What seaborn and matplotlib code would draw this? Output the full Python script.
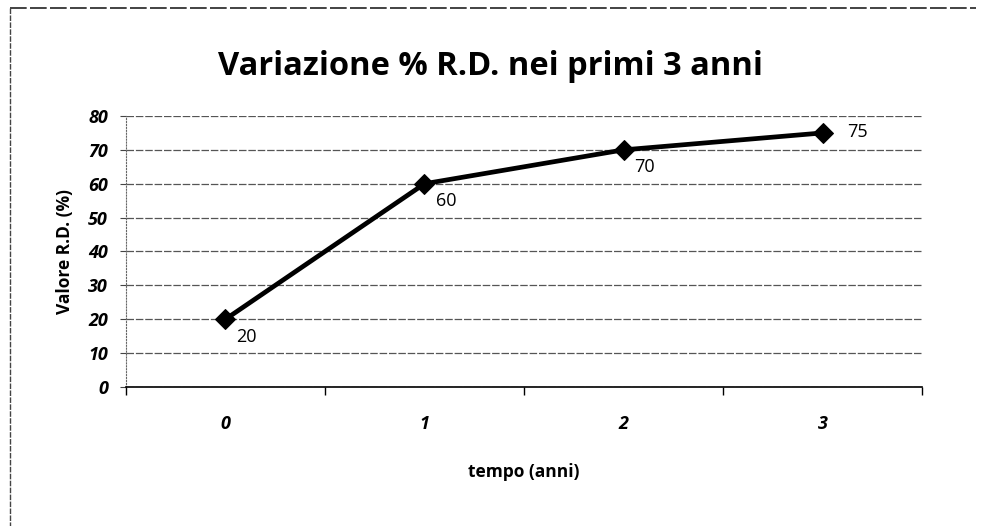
import matplotlib
matplotlib.use("Agg")
import matplotlib.pyplot as plt
import pandas as pd
import seaborn as sns
from matplotlib.lines import Line2D

# data
anni = [0, 1, 2, 3]
valori_rd = [20, 60, 70, 75]
y_ticks = [0, 10, 20, 30, 40, 50, 60, 70, 80]

df = pd.DataFrame({"tempo": anni, "valore": valori_rd})

sns.set_style("white")
plt.rcParams["font.family"] = ["Open Sans", "DejaVu Sans"]
plt.rcParams["text.color"] = "black"
plt.rcParams["axes.labelcolor"] = "black"
plt.rcParams["xtick.color"] = "black"
plt.rcParams["ytick.color"] = "black"

fig = plt.figure(figsize=(9.81, 5.26), dpi=100)
ax = fig.add_axes([0.1284, 0.2643, 0.8115, 0.5152])

sns.lineplot(data=df, x="tempo", y="valore", ax=ax, color="black",
             linewidth=3.4, marker="D", markersize=10.5, markeredgecolor="black")

for x, y in zip(anni, valori_rd):
    if x < 3:
        ax.annotate(str(y), (x, y), xytext=(8, -6), textcoords="offset points",
                    fontsize=13, ha="left", va="top")
    else:
        ax.annotate(str(y), (x, y), xytext=(18, 1), textcoords="offset points",
                    fontsize=13, ha="left", va="center")

ax.set_xlim(-0.5, 3.5)
ax.set_ylim(0, 80)
ax.set_yticks(y_ticks)
ax.set_xticks(anni)
ax.set_xticklabels([str(a) for a in anni], fontstyle="italic", fontweight="bold",
                   fontsize=13)
ax.set_yticklabels([str(t) for t in y_ticks], fontstyle="italic", fontweight="bold",
                   fontsize=13)
ax.tick_params(axis="x", which="major", bottom=False, length=0, pad=20)
ax.tick_params(axis="y", left=True, length=4, width=0.8, color="#444444", pad=9,
               direction="out")

# category boundary ticks under the x axis
ax.set_xticks([-0.5, 0.5, 1.5, 2.5, 3.5], minor=True)
ax.tick_params(axis="x", which="minor", bottom=True, length=6, width=1,
               color="black", direction="out")

ax.grid(axis="y", color="#555555", linewidth=0.9, linestyle=(0, (6, 1.5)))
ax.set_axisbelow(True)
for side in ["top", "right"]:
    ax.spines[side].set_visible(False)
ax.spines["left"].set_color("#666666")
ax.spines["left"].set_linestyle(":")
ax.spines["bottom"].set_color("black")
ax.spines["bottom"].set_linewidth(1.2)

ax.set_xlabel("tempo (anni)", fontsize=12.5, fontweight="bold", labelpad=22)
ax.set_ylabel("Valore R.D. (%)", fontsize=12.5, fontweight="bold", labelpad=10)
fig.suptitle("Variazione % R.D. nei primi 3 anni", fontsize=23.5, fontweight="bold",
             x=0.5, y=0.905)

# scanned chart frame, top and left sides
fig.add_artist(Line2D([0.010, 0.995], [0.985, 0.985], color="#222222", lw=1.2,
                      linestyle=(0, (10, 2))))
fig.add_artist(Line2D([0.010, 0.010], [0.985, 0.0], color="#444444", lw=1,
                      linestyle=(0, (4, 1))))

fig.savefig("out.png", dpi=100)
